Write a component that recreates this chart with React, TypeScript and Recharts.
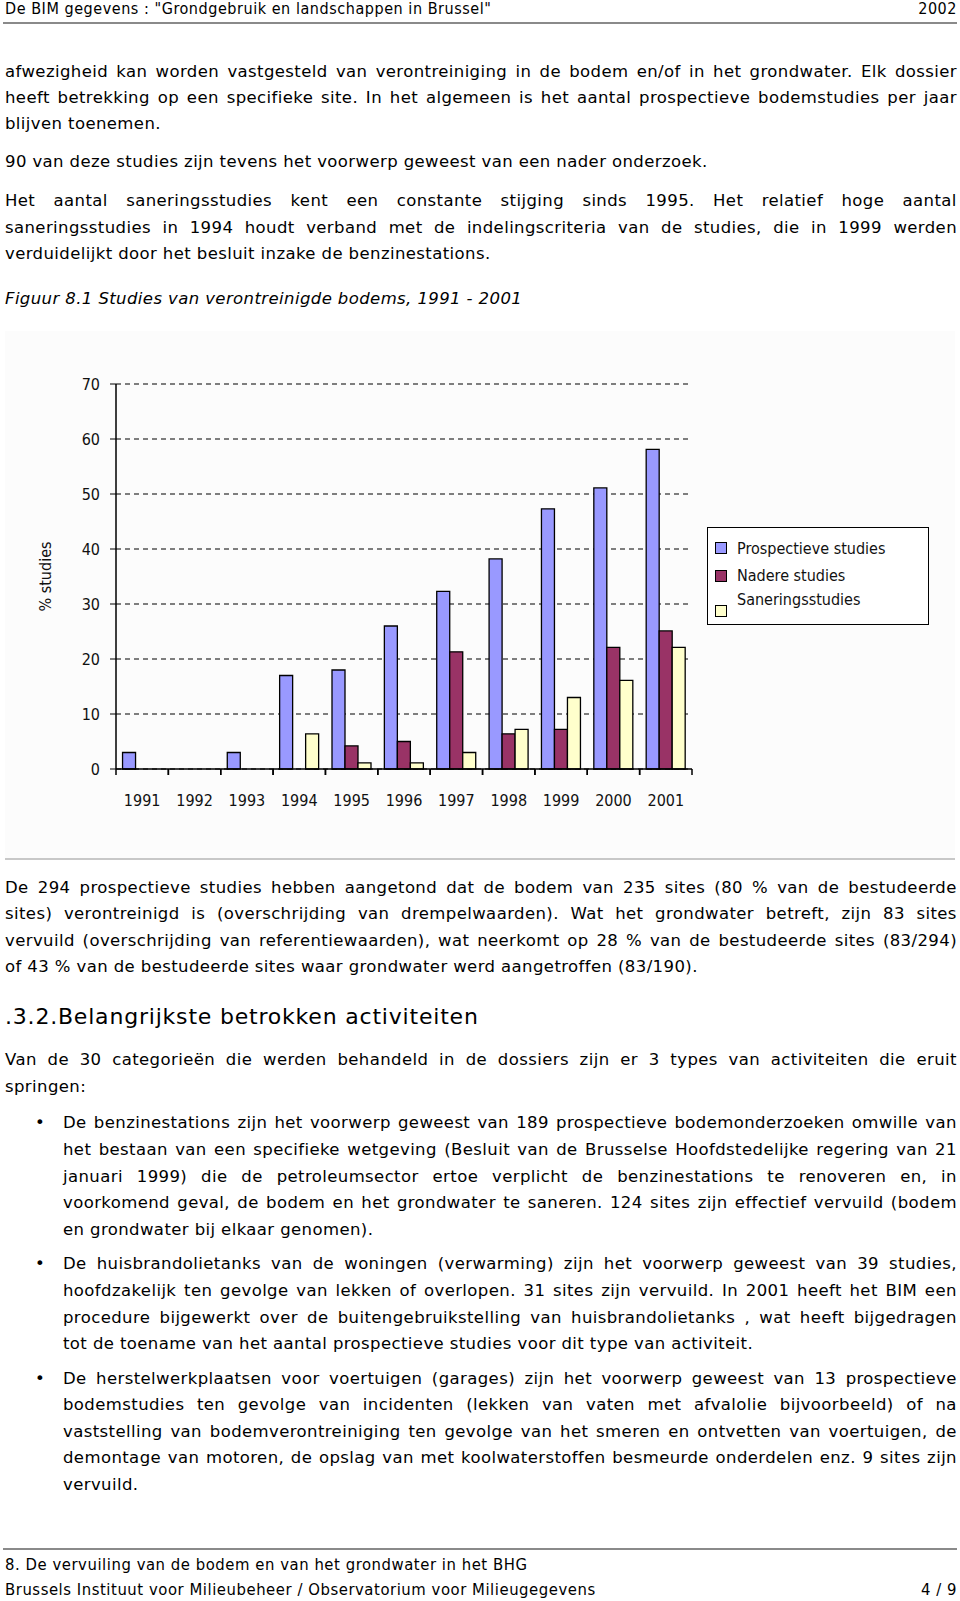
import React from 'react';
import { BarChart, Bar, XAxis, YAxis, CartesianGrid, Legend, Label } from 'recharts';

// Figuur 8.1 Studies van verontreinigde bodems, 1991 - 2001
const years = ['1991', '1992', '1993', '1994', '1995', '1996', '1997', '1998', '1999', '2000', '2001'];
const prospectieve = [3, null, 3, 17, 18, 26, 32.3, 38.2, 47.3, 51.1, 58.1];
const nadere = [null, null, null, null, 4.2, 5, 21.3, 6.4, 7.2, 22.1, 25.1];
const sanering = [null, null, null, 6.4, 1.1, 1.1, 3, 7.2, 13, 16.1, 22.1];
const yTicks = [0, 10, 20, 30, 40, 50, 60, 70];
const seriesNames = ['Prospectieve studies', 'Nadere studies', 'Saneringsstudies'];

const chartData = years.map((year, i) => ({
  year,
  prospectieve: prospectieve[i],
  nadere: nadere[i],
  sanering: sanering[i],
}));

const CHART_FONT = '"DejaVu Sans Condensed", "DejaVu Sans", sans-serif';
const BODY_FONT = '"DejaVu Sans", sans-serif';

const XTick = (props: any) => {
  const { x, y, payload } = props;
  const half = payload.offset ?? (props.width ? props.width / years.length / 2 : 0);
  return (
    <g>
      <line x1={x - half} y1={y} x2={x - half} y2={y + 6} stroke="#000" strokeWidth={1.5} />
      <line x1={x + half} y1={y} x2={x + half} y2={y + 6} stroke="#000" strokeWidth={1.5} />
      <text x={x} y={y + 31} textAnchor="middle" dominantBaseline="central" fill="#111" fontSize={16} fontFamily={CHART_FONT}>
        {payload.value}
      </text>
    </g>
  );
};

const legendRows = [
  { text: 21, box: 14 },
  { text: 48, box: 42 },
  { text: 72, box: 77 },
];

const LegendBox = ({ payload }: any) => {
  // keep the series order of the original legend
  const items = [...(payload || [])].sort(
    (a: any, b: any) => seriesNames.indexOf(a.value) - seriesNames.indexOf(b.value)
  );
  return (
    <div style={{ position: 'relative', width: 220, height: 96, border: '1.5px solid #000', background: '#fff', fontFamily: CHART_FONT, fontSize: 16, color: '#111' }}>
      {items.map((entry: any, i: number) => (
        <React.Fragment key={entry.value}>
          <div style={{ position: 'absolute', left: 7, top: legendRows[i].box, width: 10, height: 10, background: entry.color, border: '1.5px solid #000' }} />
          <div style={{ position: 'absolute', left: 29, top: legendRows[i].text - 10, lineHeight: '20px', whiteSpace: 'nowrap' }}>{entry.value}</div>
        </React.Fragment>
      ))}
    </div>
  );
};

function TextLine({ text, y, left = 5, justify = false, style = {} }: any) {
  const base: React.CSSProperties = {
    position: 'absolute', left, right: 3, top: y - 11, height: 22, lineHeight: '22px',
    whiteSpace: 'nowrap', ...style,
  };
  if (justify) {
    return (
      <div style={{ ...base, display: 'flex', justifyContent: 'space-between' }}>
        {text.split(' ').map((w: string, i: number) => <span key={i}>{w}</span>)}
      </div>
    );
  }
  return <div style={base}>{text}</div>;
}

const topLines = [
  { t: 'afwezigheid kan worden vastgesteld van verontreiniging in de bodem en/of in het grondwater. Elk dossier', y: 71.5, j: true },
  { t: 'heeft betrekking op een specifieke site. In het algemeen is het aantal prospectieve bodemstudies per jaar', y: 98, j: true },
  { t: 'blijven toenemen.', y: 123.6 },
  { t: '90 van deze studies zijn tevens het voorwerp geweest van een nader onderzoek.', y: 162.4 },
  { t: 'Het aantal saneringsstudies kent een constante stijging sinds 1995. Het relatief hoge aantal', y: 201.2, j: true },
  { t: 'saneringsstudies in 1994 houdt verband met de indelingscriteria van de studies, die in 1999 werden', y: 227.7, j: true },
  { t: 'verduidelijkt door het besluit inzake de benzinestations.', y: 254.3 },
];

const afterLines = [
  { t: 'De 294 prospectieve studies hebben aangetond dat de bodem van 235 sites (80 % van de bestudeerde', y: 887.5, j: true },
  { t: 'sites) verontreinigd is (overschrijding van drempelwaarden). Wat het grondwater betreft, zijn 83 sites', y: 914, j: true },
  { t: 'vervuild (overschrijding van referentiewaarden), wat neerkomt op 28 % van de bestudeerde sites (83/294)', y: 940.6, j: true },
  { t: 'of 43 % van de bestudeerde sites waar grondwater werd aangetroffen (83/190).', y: 967.2 },
  { t: 'Van de 30 categorieën die werden behandeld in de dossiers zijn er 3 types van activiteiten die eruit', y: 1060.1, j: true },
  { t: 'springen:', y: 1086.7 },
];

const bulletLines = [
  { t: 'De benzinestations zijn het voorwerp geweest van 189 prospectieve bodemonderzoeken omwille van', y: 1123.4, j: true, b: true },
  { t: 'het bestaan van een specifieke wetgeving (Besluit van de Brusselse Hoofdstedelijke regering van 21', y: 1150, j: true },
  { t: 'januari 1999) die de petroleumsector ertoe verplicht de benzinestations te renoveren en, in', y: 1176.5, j: true },
  { t: 'voorkomend geval, de bodem en het grondwater te saneren. 124 sites zijn effectief vervuild (bodem', y: 1203.1, j: true },
  { t: 'en grondwater bij elkaar genomen).', y: 1229.6 },
  { t: 'De huisbrandolietanks van de woningen (verwarming) zijn het voorwerp geweest van 39 studies,', y: 1264.4, j: true, b: true },
  { t: 'hoofdzakelijk ten gevolge van lekken of overlopen. 31 sites zijn vervuild. In 2001 heeft het BIM een', y: 1290.9, j: true },
  { t: 'procedure bijgewerkt over de buitengebruikstelling van huisbrandolietanks , wat heeft bijgedragen', y: 1317.5, j: true },
  { t: 'tot de toename van het aantal prospectieve studies voor dit type van activiteit.', y: 1344 },
  { t: 'De herstelwerkplaatsen voor voertuigen (garages) zijn het voorwerp geweest van 13 prospectieve', y: 1378.8, j: true, b: true },
  { t: 'bodemstudies ten gevolge van incidenten (lekken van vaten met afvalolie bijvoorbeeld) of na', y: 1405.3, j: true },
  { t: 'vaststelling van bodemverontreiniging ten gevolge van het smeren en ontvetten van voertuigen, de', y: 1431.9, j: true },
  { t: 'demontage van motoren, de opslag van met koolwaterstoffen besmeurde onderdelen enz. 9 sites zijn', y: 1458.4, j: true },
  { t: 'vervuild.', y: 1485 },
];

function StudiesChart() {
  return (
    <div style={{ position: 'absolute', left: 5, top: 331, width: 950, height: 527, background: '#fcfcfc', borderBottom: '2px solid #c8c8c8' }}>
      <BarChart
        width={950}
        height={527}
        data={chartData}
        margin={{ top: 53, right: 263, bottom: 59, left: 0 }}
        barCategoryGap="12.5%"
        barGap={0}
      >
        <CartesianGrid horizontal vertical={false} stroke="#000" strokeDasharray="5 4" />
        <XAxis
          dataKey="year"
          height={30}
          axisLine={{ stroke: '#000', strokeWidth: 1.5 }}
          tickLine={false}
          tickSize={0}
          tickMargin={0}
          interval={0}
          tick={<XTick />}
        />
        <YAxis
          width={111}
          domain={[0, 70]}
          ticks={yTicks}
          interval={0}
          axisLine={{ stroke: '#000', strokeWidth: 1.5 }}
          tickLine={{ stroke: '#000' }}
          tickSize={6}
          tickMargin={10}
          tick={{ fill: '#111', fontSize: 16, fontFamily: CHART_FONT }}
        >
          <Label
            content={({ viewBox }: any) => (
              <text
                x={viewBox.x + 40}
                y={viewBox.y + viewBox.height / 2}
                transform={`rotate(-90 ${viewBox.x + 40} ${viewBox.y + viewBox.height / 2})`}
                textAnchor="middle"
                dominantBaseline="central"
                fill="#111"
                fontSize={16}
                fontFamily={CHART_FONT}
              >
                % studies
              </text>
            )}
          />
        </YAxis>
        <Legend
          layout="horizontal"
          verticalAlign="middle"
          align="center"
          content={<LegendBox />}
          wrapperStyle={{ left: 702, top: 196, width: 224, height: 100 }}
        />
        <Bar dataKey="prospectieve" name={seriesNames[0]} fill="#9999ff" stroke="#000" strokeWidth={1.3} isAnimationActive={false} />
        <Bar dataKey="nadere" name={seriesNames[1]} fill="#993366" stroke="#000" strokeWidth={1.3} isAnimationActive={false} />
        <Bar dataKey="sanering" name={seriesNames[2]} fill="#ffffcc" stroke="#000" strokeWidth={1.3} isAnimationActive={false} />
      </BarChart>
    </div>
  );
}

export default function App() {
  const bodyStyle = { fontSize: 16.5, letterSpacing: 0.4, color: '#000' };
  const headStyle = { fontFamily: CHART_FONT, fontSize: 16, letterSpacing: 0.55 };
  const footStyle = { fontFamily: CHART_FONT, fontSize: 16.5, letterSpacing: 0.55 };
  return (
    <div style={{ position: 'absolute', left: 0, top: 0, width: 960, height: 1601, background: '#fff', overflow: 'hidden', fontFamily: BODY_FONT, color: '#000' }}>
      {/* page header */}
      <TextLine text={'De BIM gegevens : "Grondgebruik en landschappen in Brussel"'} y={9} style={headStyle} />
      <div style={{ position: 'absolute', right: 3, top: -2, lineHeight: '22px', ...headStyle }}>2002</div>
      <div style={{ position: 'absolute', left: 3, width: 954, top: 22, height: 2, background: '#8a8a8a' }} />

      {topLines.map((l) => <TextLine key={l.y} text={l.t} y={l.y} justify={l.j} style={bodyStyle} />)}
      <TextLine text="Figuur 8.1 Studies van verontreinigde bodems, 1991 - 2001" y={299.2} style={{ ...bodyStyle, fontStyle: 'italic' }} />

      <StudiesChart />

      {afterLines.map((l) => <TextLine key={l.y} text={l.t} y={l.y} justify={l.j} style={bodyStyle} />)}
      <TextLine text=".3.2.Belangrijkste betrokken activiteiten" y={1017.2} style={{ fontSize: 22, letterSpacing: 0.8, height: 30, top: 1002, lineHeight: '30px' }} />

      {bulletLines.map((l) => (
        <React.Fragment key={l.y}>
          {l.b && <div style={{ position: 'absolute', left: 35, top: l.y - 11, lineHeight: '22px', fontSize: 16.5 }}>•</div>}
          <TextLine text={l.t} y={l.y} left={63} justify={l.j} style={bodyStyle} />
        </React.Fragment>
      ))}

      {/* page footer */}
      <div style={{ position: 'absolute', left: 3, width: 954, top: 1548, height: 2, background: '#8a8a8a' }} />
      <TextLine text="8. De vervuiling van de bodem en van het grondwater in het BHG" y={1564.6} style={footStyle} />
      <TextLine text="Brussels Instituut voor Milieubeheer / Observatorium voor Milieugegevens" y={1590.1} style={footStyle} />
      <div style={{ position: 'absolute', right: 3, top: 1579, lineHeight: '22px', ...footStyle }}>4 / 9</div>
    </div>
  );
}
